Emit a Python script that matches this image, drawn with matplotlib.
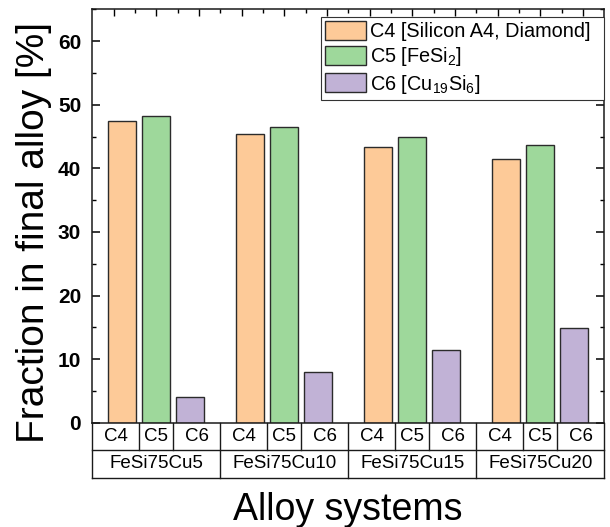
import matplotlib
matplotlib.use("Agg")
import matplotlib.pyplot as plt
from matplotlib.transforms import blended_transform_factory
from matplotlib.ticker import MultipleLocator, FixedLocator
import numpy as np

# Phase fractions (%) in each alloy system
alloys = ["FeSi75Cu5", "FeSi75Cu10", "FeSi75Cu15", "FeSi75Cu20"]
phases = ["C4", "C5", "C6"]
c4_silicon = [47.4, 45.4, 43.3, 41.4]
c5_fesi2 = [48.3, 46.5, 45.0, 43.6]
c6_cu19si6 = [4.1, 7.9, 11.4, 14.9]
legend_labels = ["C4 [Silicon A4, Diamond]", r"C5 [FeSi$_{2}$]", r"C6 [Cu$_{19}$Si$_{6}$]"]
y_ticks = [0, 10, 20, 30, 40, 50, 60]

colors = ["#FDCA98", "#9ED89B", "#C1B2D6"]

plt.rcParams['font.family'] = ['Liberation Sans', 'DejaVu Sans']
plt.rcParams['mathtext.default'] = 'regular'

W, H = 610, 527
fig = plt.figure(figsize=(W / 100, H / 100), dpi=100)
ax_w, ax_h = 512.0, 413.4
ax = fig.add_axes([92.3 / W, 104.3 / H, ax_w / W, ax_h / H])

step = 0.266
width = 0.219
centers = np.arange(len(alloys)) + 0.5
series = [c4_silicon, c5_fesi2, c6_cu19si6]
for i, (vals, col, lab) in enumerate(zip(series, colors, legend_labels)):
    ax.bar(centers + (i - 1) * step, vals, width, color=col,
           edgecolor='#2b2b2b', linewidth=1.0, label=lab, zorder=2)

ax.set_xlim(0, len(alloys))
ax.set_ylim(0, 65)
ax.set_xticks([])
ax.set_yticks(y_ticks)
ax.yaxis.set_minor_locator(MultipleLocator(5))
ax.tick_params(axis='y', which='major', direction='in', length=5.5, width=1.1,
               left=True, right=True, labelsize=15, pad=8)
ax.tick_params(axis='y', which='minor', direction='in', length=3, width=1.0,
               left=True, right=True)
for lbl in ax.get_yticklabels():
    lbl.set_fontweight('bold')
for sp in ax.spines.values():
    sp.set_linewidth(1.1)
    sp.set_color('#1a1a1a')

# Top axis ticks
ax2 = ax.twiny()
ax2.set_xlim(0.5, 12.5)
ax2.xaxis.set_major_locator(FixedLocator(np.arange(1, 13)))
ax2.xaxis.set_minor_locator(FixedLocator(np.arange(1.5, 12.5, 1)))
ax2.tick_params(axis='x', which='major', direction='in', length=5, width=1.0,
                top=True, bottom=False, labeltop=False)
ax2.tick_params(axis='x', which='minor', direction='in', length=3, width=1.0,
                top=True, bottom=False)
for sp in ax2.spines.values():
    sp.set_visible(False)

# Category table below the axis
trans = blended_transform_factory(ax.transData, ax.transAxes)
r1 = -27 / ax_h
r2 = -55 / ax_h
lkw = dict(transform=trans, clip_on=False, color='#1a1a1a', lw=1.0)
n = len(alloys)
ax.plot([0, n], [r1, r1], **lkw)
ax.plot([0, n], [r2, r2], **lkw)
for x in range(n + 1):
    ax.plot([x, x], [0, r2], **lkw)
half = (0.5 - step / 2)
for g in range(n):
    for x in (g + 0.5 - step / 2, g + 0.5 + step / 2):
        ax.plot([x, x], [0, r1], **lkw)
    cell_centers = [g + half / 2, g + 0.5, g + 1 - half / 2]
    for cx, ph in zip(cell_centers, phases):
        ax.text(cx, r1 / 2, ph, transform=trans, ha='center', va='center',
                fontsize=13.5, clip_on=False)
    ax.text(g + 0.5, (r1 + r2) / 2, alloys[g], transform=trans, ha='center',
            va='center', fontsize=13.5, clip_on=False)

fig.text(0.055, 0.558, 'Fraction in final alloy [%]', rotation=90,
         fontsize=28, ha='center', va='center')
fig.text(348 / W, 0.013, 'Alloy systems', fontsize=27, ha='center', va='baseline')

leg_x0 = (320.7 - 92.3) / ax_w
leg_w = (604.0 - 320.7) / ax_w
leg_top = 1 - 7.4 / ax_h
leg = ax.legend(loc='upper left', bbox_to_anchor=(leg_x0, leg_top - 0.3, leg_w, 0.3),
                mode='expand', borderaxespad=0, fontsize=14.3, frameon=True,
                fancybox=False, edgecolor='#333333', framealpha=1,
                handlelength=2.1, handleheight=1.1, handletextpad=0.2,
                borderpad=0.2, labelspacing=0.22)
leg.get_frame().set_linewidth(0.8)

fig.savefig('out.png', dpi=100)
